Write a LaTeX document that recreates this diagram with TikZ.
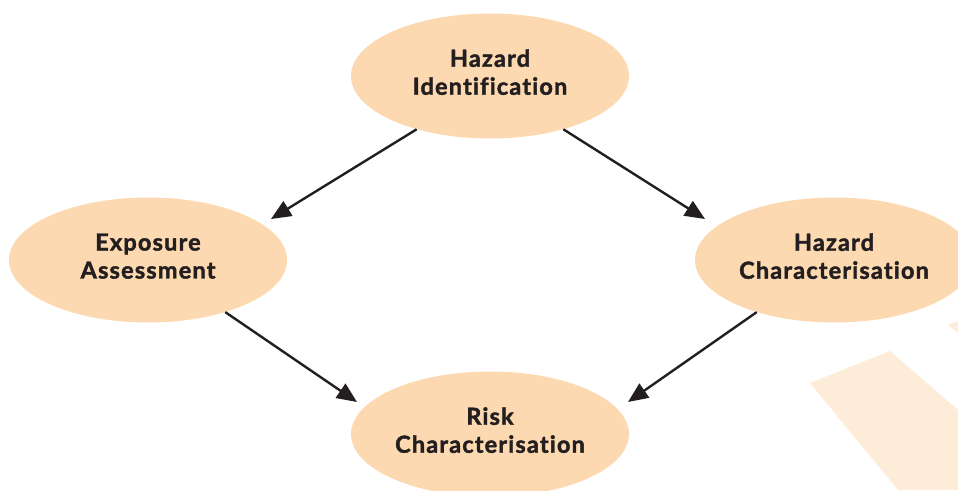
\documentclass[tikz,border=0pt]{standalone}
\usepackage{fontspec}
\setmainfont{Lato}[Ligatures={NoCommon}, BoldFeatures={FakeBold=1.8,LetterSpace=5}]
\usetikzlibrary{shapes.geometric,arrows.meta}
\definecolor{peach}{HTML}{FCD9B0}
\definecolor{pale}{HTML}{FDECD8}
\definecolor{ink}{HTML}{231F20}
\newcommand\lowpad{\rule[-8pt]{0pt}{8pt}}
\tikzset{
  blob/.style={ellipse, fill=peach, draw=none, minimum width=278pt, minimum height=125pt, inner sep=0pt,
    align=center, text=ink, font=\fontsize{23.5}{28}\selectfont\bfseries},
  link/.style={draw=ink, line width=2.4pt, -{Triangle[length=20pt,width=17pt]}}
}
\begin{document}
\begin{tikzpicture}[x=1pt,y=-1pt]
\useasboundingbox (0,0) rectangle (958,490);
\fill[pale] (810,383) -- (890,351) -- (958,410) -- (958,490) -- (898,490) -- cycle;
\fill[pale] (948,325) -- (958,321) -- (958,333) -- cycle;
\node[blob] (hi) at (490,76) {Hazard\\Identification\lowpad};
\node[blob] (ea) at (148,260) {Exposure\\Assessment\lowpad};
\node[blob] (hc) at (834,260) {Hazard\\Characterisation\lowpad};
\node[blob] (rc) at (490,434) {Risk\\Characterisation\lowpad};
\coordinate (t1) at (271,219);
\coordinate (t2) at (705,219);
\coordinate (t3) at (357,402);
\coordinate (t4) at (628,402);
\draw[link] (hi.216) -- (t1);
\draw[link] (hi.324) -- (t2);
\draw[link] (ea.326.5) -- (t3);
\draw[link] (hc.214.5) -- (t4);
\end{tikzpicture}
\end{document}
